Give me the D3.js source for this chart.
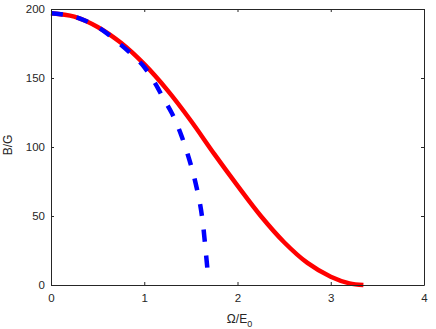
<!DOCTYPE html>
<html>
<head>
<meta charset="utf-8">
<script src="https://cdn.jsdelivr.net/npm/d3@7"></script>
<style>
  html, body { margin: 0; padding: 0; background: #fff; }
  svg { display: block; font-family: "Liberation Sans", Arial, sans-serif; }
</style>
</head>
<body>
<div id="canvas"></div>
<script>
// values
const xTicks = [0, 1, 2, 3, 4];
const yTicks = [0, 50, 100, 150, 200];

// red solid curve
const redOmega = [0, 0.25, 0.5, 0.75, 1.0, 1.25, 1.5, 1.75, 2.0, 2.25, 2.5, 2.75, 3.0, 3.2, 3.35];
const redB     = [197, 194.5, 187, 175.5, 160, 141, 119, 95, 72, 50, 31, 16, 6, 1.2, 0];

// blue dashed curve
const blueOmega = [0, 0.25, 0.5, 0.75, 0.9, 1.0, 1.1, 1.2, 1.3, 1.4, 1.5, 1.55, 1.6, 1.63, 1.66, 1.685];
const blueB     = [197, 194.5, 187, 174, 165, 158, 148, 136, 124, 108, 87, 74, 58, 44, 24, 6];

(function() {
    const W = 436, H = 329;
    const margin = { left: 51, right: 12, top: 9, bottom: 44 };
    const iw = W - margin.left - margin.right;
    const ih = H - margin.top - margin.bottom;
    const axisColor = '#262626';

    const svg = d3.select('#canvas').append('svg')
        .attr('width', W).attr('height', H);

    const g = svg.append('g').attr('transform', `translate(${margin.left},${margin.top})`);

    const x = d3.scaleLinear().domain([0, 4]).range([0, iw]);
    const y = d3.scaleLinear().domain([0, 200]).range([ih, 0]);

    // curves
    const line = d3.line().x(d => x(d[0])).y(d => y(d[1])).curve(d3.curveCatmullRom.alpha(0.5));
    const red = redOmega.map((o, i) => [o, redB[i]]);
    const blue = blueOmega.map((o, i) => [o, blueB[i]]);

    g.append('path').datum(red)
        .attr('d', line)
        .attr('fill', 'none')
        .attr('stroke', '#ff0000')
        .attr('stroke-width', 4.5);

    g.append('path').datum(blue)
        .attr('d', line)
        .attr('fill', 'none')
        .attr('stroke', '#0000ff')
        .attr('stroke-width', 4.5)
        .attr('stroke-dasharray', '12,14');

    // axes (matlab style box, ticks inside)
    function styleAxis(sel, hideText) {
        sel.select('.domain').attr('stroke', axisColor).attr('stroke-width', 1);
        sel.selectAll('.tick line').attr('stroke', axisColor);
        sel.selectAll('.tick text').attr('fill', axisColor).style('font-size', '11.5px');
        if (hideText) sel.selectAll('.tick text').remove();
    }

    g.append('g').attr('transform', `translate(0,${ih})`)
        .call(d3.axisBottom(x).tickValues(xTicks).tickFormat(d3.format('d'))
            .tickSizeInner(-3).tickSizeOuter(0).tickPadding(9))
        .call(s => styleAxis(s, false));

    g.append('g')
        .call(d3.axisTop(x).tickValues(xTicks).tickSizeInner(-3).tickSizeOuter(0))
        .call(s => styleAxis(s, true));

    g.append('g')
        .call(d3.axisLeft(y).tickValues(yTicks).tickFormat(d3.format('d'))
            .tickSizeInner(-3).tickSizeOuter(0).tickPadding(6))
        .call(s => styleAxis(s, false));

    g.append('g').attr('transform', `translate(${iw},0)`)
        .call(d3.axisRight(y).tickValues(yTicks).tickSizeInner(-3).tickSizeOuter(0))
        .call(s => styleAxis(s, true));

    // axis titles
    const xt = svg.append('text')
        .attr('x', margin.left + iw / 2 + 2)
        .attr('y', 323)
        .attr('text-anchor', 'middle')
        .attr('fill', axisColor)
        .style('font-size', '12px');
    xt.append('tspan').text('Ω/E');
    xt.append('tspan').attr('dy', 3.5).style('font-size', '9px').text('0');

    svg.append('text')
        .attr('transform', `translate(12,${margin.top + ih / 2 - 2}) rotate(-90)`)
        .attr('text-anchor', 'middle')
        .attr('fill', axisColor)
        .style('font-size', '12px')
        .text('B/G');
})();
</script>
</body>
</html>
